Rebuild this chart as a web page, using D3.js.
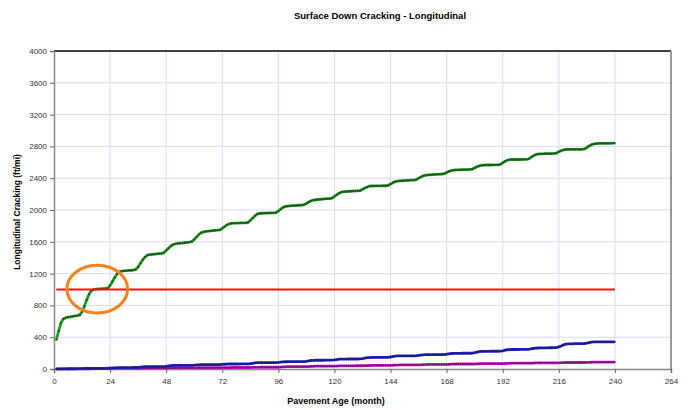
<!DOCTYPE html>
<html>
<head>
<meta charset="utf-8">
<script src="https://cdn.jsdelivr.net/npm/d3@7"></script>
<style>
  body { margin: 0; background: #fff; }
  svg { font-family: Arial, "Liberation Sans", sans-serif; }
</style>
</head>
<body>
<svg id="chart"></svg>
<script>
// monthly cracking values (ft/mi), one row per year, months 1..240
const greenSeries = [
  365, 480, 580, 630, 645, 652, 657, 662, 667, 672, 680, 720,
  790, 870, 940, 985, 1000, 1004, 1007, 1009, 1011, 1013, 1017, 1050,
  1100, 1150, 1195, 1222, 1230, 1234, 1237, 1240, 1242, 1245, 1252, 1285,
  1330, 1375, 1410, 1432, 1438, 1442, 1445, 1448, 1451, 1454, 1462, 1490,
  1520, 1548, 1566, 1574, 1579, 1582, 1585, 1589, 1593, 1597, 1603, 1630,
  1662, 1692, 1714, 1725, 1730, 1734, 1737, 1740, 1743, 1746, 1750, 1770,
  1792, 1812, 1826, 1832, 1834, 1835, 1836, 1837, 1838, 1839, 1845, 1868,
  1898, 1928, 1948, 1956, 1959, 1960, 1961, 1962, 1963, 1964, 1968, 1985,
  2010, 2032, 2045, 2050, 2052, 2054, 2056, 2058, 2060, 2062, 2066, 2082,
  2100, 2115, 2124, 2129, 2132, 2135, 2138, 2140, 2142, 2144, 2150, 2170,
  2192, 2212, 2225, 2230, 2232, 2234, 2236, 2238, 2240, 2241, 2245, 2260,
  2276, 2290, 2299, 2302, 2303, 2303, 2304, 2304, 2305, 2305, 2310, 2328,
  2344, 2356, 2363, 2366, 2368, 2370, 2372, 2373, 2375, 2376, 2382, 2400,
  2416, 2429, 2437, 2441, 2443, 2445, 2447, 2449, 2450, 2452, 2457, 2472,
  2486, 2496, 2502, 2504, 2505, 2506, 2507, 2508, 2509, 2510, 2515, 2530,
  2544, 2555, 2562, 2565, 2566, 2566, 2566, 2567, 2567, 2568, 2574, 2594,
  2612, 2626, 2633, 2635, 2635, 2635, 2635, 2635, 2636, 2636, 2641, 2660,
  2680, 2695, 2703, 2706, 2707, 2708, 2709, 2710, 2710, 2711, 2716, 2732,
  2746, 2756, 2761, 2763, 2763, 2763, 2763, 2763, 2763, 2764, 2768, 2786,
  2806, 2822, 2831, 2835, 2837, 2838, 2838, 2839, 2839, 2839, 2840, 2840
];

const blueSeries = [
  1, 1, 2, 2, 2, 3, 3, 3, 3, 4, 4, 5,
  6, 7, 8, 8, 8, 8, 9, 9, 9, 9, 10, 11,
  13, 15, 17, 17, 18, 18, 18, 18, 18, 19, 19, 21,
  24, 27, 29, 29, 30, 30, 30, 30, 31, 31, 31, 34,
  38, 42, 44, 45, 45, 45, 45, 46, 46, 46, 46, 48,
  51, 53, 54, 55, 55, 55, 55, 55, 56, 56, 56, 58,
  60, 62, 63, 63, 63, 63, 63, 64, 64, 64, 64, 67,
  72, 77, 79, 80, 80, 80, 80, 80, 81, 81, 81, 83,
  87, 90, 91, 92, 92, 92, 92, 93, 93, 93, 93, 97,
  102, 107, 109, 110, 110, 110, 110, 111, 111, 111, 111, 114,
  119, 123, 125, 125, 125, 126, 126, 126, 126, 126, 127, 131,
  137, 142, 144, 145, 145, 145, 146, 146, 146, 146, 147, 151,
  157, 162, 164, 165, 165, 165, 166, 166, 166, 166, 167, 170,
  175, 178, 180, 180, 180, 181, 181, 181, 181, 182, 182, 186,
  191, 195, 196, 197, 197, 197, 198, 198, 198, 198, 199, 205,
  212, 218, 221, 222, 222, 222, 223, 223, 223, 223, 224, 229,
  236, 242, 244, 245, 245, 245, 246, 246, 246, 246, 247, 252,
  258, 262, 264, 265, 265, 266, 266, 267, 267, 268, 270, 278,
  290, 303, 312, 315, 316, 317, 318, 318, 319, 320, 321, 326,
  333, 338, 340, 341, 341, 341, 342, 342, 342, 342, 342, 342
];

const magentaSeries = [
  0, 0, 1, 1, 1, 1, 1, 1, 1, 1, 2, 2,
  2, 3, 3, 4, 4, 4, 4, 4, 4, 5, 5, 5,
  6, 7, 8, 8, 8, 8, 9, 9, 9, 9, 9, 9,
  10, 11, 11, 12, 12, 12, 12, 12, 12, 12, 12, 12,
  13, 13, 14, 14, 14, 14, 14, 14, 14, 14, 14, 15,
  15, 16, 16, 16, 16, 16, 16, 16, 16, 16, 16, 16,
  17, 18, 18, 19, 19, 19, 19, 19, 19, 19, 19, 19,
  20, 21, 21, 22, 22, 22, 22, 22, 22, 22, 22, 22,
  24, 26, 28, 29, 29, 29, 29, 29, 29, 29, 29, 29,
  31, 33, 34, 35, 35, 35, 35, 35, 35, 35, 35, 35,
  37, 39, 40, 40, 40, 40, 40, 40, 41, 41, 41, 41,
  42, 43, 44, 45, 45, 45, 45, 45, 45, 45, 45, 46,
  47, 49, 50, 51, 51, 51, 51, 51, 51, 51, 51, 52,
  53, 55, 56, 57, 57, 57, 57, 57, 57, 57, 57, 57,
  59, 61, 62, 63, 63, 63, 63, 63, 63, 63, 63, 63,
  64, 66, 67, 68, 68, 68, 68, 68, 68, 68, 68, 68,
  69, 71, 72, 73, 73, 73, 73, 73, 73, 73, 73, 73,
  74, 76, 77, 78, 78, 78, 78, 78, 78, 78, 78, 78,
  79, 81, 82, 82, 82, 82, 82, 82, 82, 82, 82, 83,
  84, 85, 86, 86, 86, 86, 86, 86, 86, 86, 86, 86
];

const thresholdLimit = [1000, 1000];
const thresholdMonths = [1, 240];

const xTicks = [0, 24, 48, 72, 96, 120, 144, 168, 192, 216, 240, 264];
const yTicks = [0, 400, 800, 1200, 1600, 2000, 2400, 2800, 3200, 3600, 4000];

// orange circle around the point where the limit is crossed
const markCenter = [18.5, 1005];
const markRadius = [13, 300];

const titleText = "Surface Down Cracking - Longitudinal";
const xLabel = "Pavement Age (month)";
const yLabel = "Longitudinal Cracking (ft/mi)";

/* size */
const width = 688, height = 410;
const plotLeft = 54, plotRight = 671, plotTop = 51, plotBottom = 369;

const svg = d3.select("#chart").attr("width", width).attr("height", height);

/* scales */
const xScale = d3.scaleLinear().domain([0, 264]).range([plotLeft, plotRight]);
const yScale = d3.scaleLinear().domain([0, 4000]).range([plotBottom, plotTop]);

/* grid */
svg.append("g")
  .selectAll("line")
  .data(yTicks.slice(1, -1))
  .enter()
  .append("line")
  .attr("x1", plotLeft).attr("x2", plotRight)
  .attr("y1", (d) => yScale(d)).attr("y2", (d) => yScale(d))
  .attr("stroke", "#dadaf6").attr("stroke-width", 1);

svg.append("g")
  .selectAll("line")
  .data(xTicks.slice(1, -1))
  .enter()
  .append("line")
  .attr("x1", (d) => xScale(d)).attr("x2", (d) => xScale(d))
  .attr("y1", plotTop).attr("y2", plotBottom)
  .attr("stroke", "#dadaf6").attr("stroke-width", 1);

/* frame */
svg.append("line")
  .attr("x1", plotLeft).attr("x2", plotRight).attr("y1", plotTop).attr("y2", plotTop)
  .attr("stroke", "#000").attr("stroke-width", 1.5);
svg.append("line")
  .attr("x1", plotRight).attr("x2", plotRight).attr("y1", plotTop).attr("y2", plotBottom)
  .attr("stroke", "#777").attr("stroke-width", 1.5);

/* axes */
const yAxis = d3.axisLeft(yScale).tickValues(yTicks).tickFormat(d3.format("d"))
  .tickSize(4).tickPadding(3);
const xAxis = d3.axisBottom(xScale).tickValues(xTicks).tickFormat(d3.format("d"))
  .tickSize(4).tickPadding(5);

const gy = svg.append("g").attr("transform", `translate(${plotLeft},0)`).call(yAxis);
const gx = svg.append("g").attr("transform", `translate(0,${plotBottom})`).call(xAxis);

[gx, gy].forEach((g) => {
  g.select(".domain").attr("stroke", "#888").attr("stroke-width", 1.5);
  g.selectAll(".tick line").attr("stroke", "#666");
  g.selectAll(".tick text")
    .attr("fill", "#333")
    .style("font-size", "8px")
    .style("font-family", "Arial, 'Liberation Sans', sans-serif");
});

/* series */
const months = greenSeries.map((d, i) => i + 1);
const series = [
  { values: magentaSeries, color: "#e010e0" },
  { values: blueSeries, color: "#2424e8" },
  { values: greenSeries, color: "#1f9e1f" }
];

const line = d3.line()
  .x((d) => xScale(d.m))
  .y((d) => yScale(d.v));

series.forEach((s) => {
  const pts = s.values.map((v, i) => ({ m: months[i], v: v }));
  svg.append("path")
    .datum(pts)
    .attr("fill", "none")
    .attr("stroke", s.color)
    .attr("stroke-width", 2.8)
    .attr("d", line);
  svg.append("g")
    .selectAll("rect")
    .data(pts)
    .enter()
    .append("rect")
    .attr("x", (d) => xScale(d.m) - 0.9)
    .attr("y", (d) => yScale(d.v) - 0.9)
    .attr("width", 1.8)
    .attr("height", 1.8)
    .attr("fill", "#111")
    .attr("opacity", 0.6);
});

/* limit line */
svg.append("line")
  .attr("x1", xScale(thresholdMonths[0])).attr("x2", xScale(thresholdMonths[1]))
  .attr("y1", yScale(thresholdLimit[0])).attr("y2", yScale(thresholdLimit[1]))
  .attr("stroke", "#ff1010").attr("stroke-width", 2);

/* annotation */
svg.append("ellipse")
  .attr("cx", xScale(markCenter[0]))
  .attr("cy", yScale(markCenter[1]))
  .attr("rx", xScale(markRadius[0]) - xScale(0))
  .attr("ry", yScale(0) - yScale(markRadius[1]))
  .attr("fill", "none")
  .attr("stroke", "#f5821f")
  .attr("stroke-width", 3);

/* titles */
svg.append("text")
  .attr("x", 380).attr("y", 19)
  .attr("text-anchor", "middle")
  .style("font-size", "9.5px").style("font-weight", "bold")
  .text(titleText);

svg.append("text")
  .attr("x", 336).attr("y", 404)
  .attr("text-anchor", "middle")
  .style("font-size", "9px").style("font-weight", "bold")
  .text(xLabel);

svg.append("text")
  .attr("transform", "translate(20,212) rotate(-90)")
  .attr("text-anchor", "middle")
  .style("font-size", "8.5px").style("font-weight", "bold")
  .text(yLabel);
</script>
</body>
</html>
